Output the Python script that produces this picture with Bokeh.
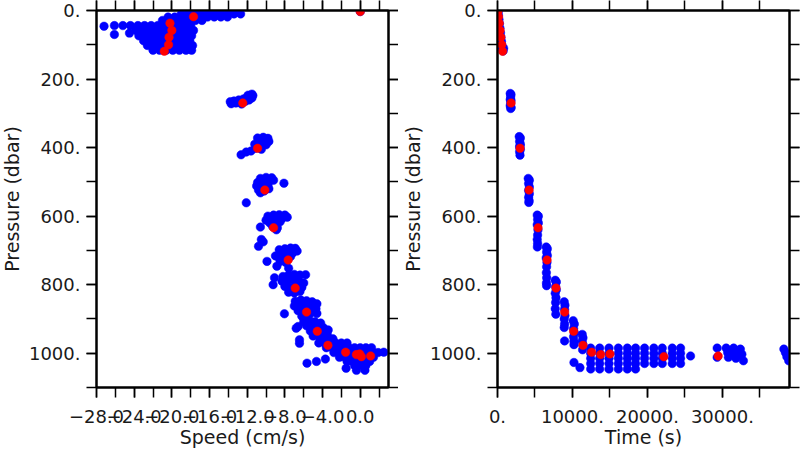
from bokeh.plotting import figure
from bokeh.layouts import row
from bokeh.models import Range1d, LinearAxis, FixedTicker
from bokeh.embed import file_html
from bokeh.resources import INLINE

FONT = "DejaVu Sans"
INK = "#1a1a1a"
BLUE = "#0000ff"
RED = "#ff0000"

# ---------------- data ----------------
# Averaged points (red): speed (cm/s), time (s), pressure (dbar)
speed_red = [0.0, -17.7, -20.2, -20.0, -20.3, -20.35, -20.8, -12.47, -10.9, -10.13,
             -9.2, -7.65, -6.9, -5.7, -4.56, -3.43, -1.55, -0.41, -0.06, 0.12, 1.1]
time_red = [50, 130, 230, 340, 450, 570, 680, 1810, 3010, 4210,
            5410, 6610, 7800, 8960, 10160, 11400, 12560, 13760, 15000, 22190, 29440]
pres_red = [3, 18, 37, 58, 78, 100, 119, 270, 402, 524,
            634, 728, 810, 880, 936, 977, 997, 1004, 1002, 1010, 1008]

# Raw observations (blue), speed panel: (speed, pressure)
spd_surface = [(0.0, 3),
               (-19.0, 10), (-18.3, 10), (-17.6, 10), (-16.9, 10), (-16.2, 10), (-15.5, 10),
               (-14.8, 10), (-14.1, 10), (-13.4, 10), (-12.7, 10),
               (-20.4, 19), (-19.7, 19), (-19.0, 19), (-18.3, 19), (-17.6, 19), (-16.9, 19),
               (-16.2, 19), (-15.5, 19), (-14.8, 19), (-14.1, 19),
               (-21.0, 29), (-20.3, 29), (-19.6, 29), (-18.9, 29), (-18.2, 29), (-17.5, 29), (-16.8, 29),
               (-27.2, 46), (-26.1, 44), (-25.2, 44), (-24.4, 44), (-23.6, 44), (-22.9, 44), (-22.2, 44),
               (-21.5, 44), (-20.8, 44), (-20.1, 44), (-19.4, 44), (-18.7, 44), (-18.0, 44),
               (-23.8, 58), (-23.1, 58), (-22.4, 58), (-21.7, 58), (-21.0, 58), (-20.3, 58),
               (-19.6, 58), (-18.9, 58), (-18.2, 58), (-17.7, 58),
               (-26.1, 70), (-24.5, 66),
               (-23.5, 74), (-22.8, 74), (-22.1, 74), (-21.4, 74), (-20.7, 74), (-20.0, 74),
               (-19.3, 74), (-18.6, 74), (-17.9, 74),
               (-23.0, 88), (-22.3, 88), (-21.6, 88), (-20.9, 88), (-20.2, 88), (-19.5, 88),
               (-18.8, 88), (-18.1, 88),
               (-22.6, 102), (-21.9, 102), (-21.2, 102), (-20.5, 102), (-19.8, 102), (-19.1, 102),
               (-18.4, 102), (-17.8, 102),
               (-22.0, 116), (-21.3, 116), (-20.6, 116), (-19.9, 116), (-19.2, 116), (-18.5, 116),
               (-17.9, 116)]
spd_mid = [(-13.7, 272), (-13.2, 270), (-12.7, 268), (-12.2, 265), (-11.8, 261), (-11.5, 255),
           (-11.4, 248), (-11.5, 244), (-13.4, 264), (-12.9, 261), (-12.4, 258), (-12.0, 252),
           (-11.9, 247), (-13.8, 266), (-12.6, 273),
           (-10.9, 372), (-10.3, 370), (-9.8, 373), (-9.7, 382), (-10.2, 385), (-10.8, 384),
           (-11.2, 390), (-10.6, 395), (-10.0, 392), (-11.1, 402), (-10.5, 405), (-11.6, 410),
           (-12.1, 413), (-12.65, 421),
           (-10.6, 490), (-10.0, 487), (-9.4, 488), (-9.2, 495), (-9.7, 500), (-10.3, 498),
           (-10.9, 502), (-11.0, 512), (-10.4, 512), (-9.8, 510), (-10.8, 524), (-10.2, 527),
           (-9.7, 520), (-10.6, 532), (-8.1, 504), (-12.1, 561),
           (-9.8, 600), (-9.2, 597), (-8.6, 596), (-8.0, 597), (-7.75, 603), (-8.3, 607),
           (-8.9, 608), (-9.5, 609), (-10.0, 612), (-9.6, 620), (-9.0, 620), (-8.5, 616),
           (-9.3, 630), (-8.8, 634), (-8.9, 640), (-10.6, 632), (-10.5, 668), (-10.8, 688),
           (-10.3, 675),
           (-8.6, 698), (-8.0, 695), (-7.4, 693), (-6.9, 694), (-6.7, 702), (-7.2, 708),
           (-7.8, 708), (-8.4, 710), (-9.0, 716), (-8.6, 722), (-8.0, 722), (-7.4, 718),
           (-8.5, 732), (-7.9, 735), (-9.9, 732), (-8.85, 746), (-7.6, 752)]
spd_deep = [(-8.2, 776), (-7.6, 772), (-7.0, 770), (-6.4, 772), (-5.8, 771), (-8.3, 790),
            (-7.7, 788), (-7.1, 786), (-6.5, 790), (-6.0, 795), (-8.0, 805), (-7.4, 808),
            (-6.8, 804), (-6.2, 808), (-7.6, 822), (-7.0, 824), (-6.4, 820), (-9.1, 780),
            (-9.25, 800),
            (-6.9, 848), (-6.3, 845), (-5.7, 847), (-5.1, 850), (-4.6, 856), (-7.0, 862),
            (-6.4, 862), (-5.8, 862), (-5.2, 866), (-4.7, 870), (-6.6, 876), (-6.0, 878),
            (-5.2, 882), (-4.6, 884), (-6.2, 892), (-5.5, 894), (-8.05, 885), (-6.8, 927),
            (-6.0, 908), (-5.4, 906), (-4.8, 908), (-4.2, 912), (-5.7, 920), (-5.1, 922),
            (-4.5, 924), (-3.9, 926), (-3.4, 932), (-5.3, 935), (-4.7, 938), (-4.1, 942),
            (-3.5, 945), (-6.6, 922), (-6.45, 961), (-6.45, 971), (-5.0, 950), (-4.3, 955)]
spd_bottom = [(-4.1, 958), (-3.5, 958), (-2.9, 958),
              (-4.4, 970), (-3.8, 970), (-3.2, 970), (-2.6, 970), (-2.0, 970), (-1.4, 970),
              (-3.6, 984), (-3.0, 984), (-2.4, 984), (-1.8, 984), (-1.2, 984), (-0.6, 984),
              (0.0, 984), (0.6, 984), (1.2, 984),
              (-2.8, 998), (-2.2, 998), (-1.6, 998), (-1.0, 998), (-0.4, 998), (0.2, 998),
              (0.8, 998), (1.4, 998), (1.9, 998),
              (-2.2, 1012), (-1.6, 1012), (-1.0, 1012), (-0.4, 1012), (0.2, 1012), (0.8, 1012),
              (1.4, 1012),
              (-1.4, 1024), (-0.8, 1024), (-0.2, 1024), (0.4, 1024), (1.0, 1024),
              (-0.6, 1036), (0.0, 1036), (0.6, 1036),
              (2.5, 997), (-5.65, 1029), (-4.65, 1024), (-3.7, 1017), (-1.5, 1044),
              (-0.4, 1050), (0.5, 1050)]

# Raw observations (blue), time panel: (time, pressure)
tim_profiles = [(50, 3), (60, 5), (130, 14), (200, 26), (260, 38), (330, 52), (400, 65),
                (460, 78), (530, 90), (590, 102), (660, 112), (750, 118), (820, 110),
                (1700, 242), (1800, 245), (1750, 252), (1700, 260), (1800, 262), (1750, 270),
                (1700, 278), (1820, 283), (1760, 286),
                (2900, 368), (3050, 372), (2950, 382), (3050, 390), (2950, 398), (3050, 405),
                (2950, 412), (3000, 422), (3000, 395),
                (4100, 490), (4250, 495), (4150, 505), (4250, 515), (4150, 525), (4250, 535),
                (4150, 545), (4220, 555), (4180, 560),
                (5300, 597), (5450, 600), (5350, 610), (5450, 620), (5300, 625), (5400, 640),
                (5350, 655), (5300, 668), (5350, 680), (5320, 690),
                (6500, 690), (6650, 695), (6550, 705), (6650, 715), (6500, 722), (6600, 735),
                (6550, 748), (6520, 765), (6560, 780), (6530, 795), (6550, 803),
                (7700, 787), (7850, 792), (7750, 805), (7850, 815), (7700, 825), (7800, 838),
                (7750, 852), (7700, 870), (7780, 886),
                (8900, 850), (9000, 860), (8950, 872), (9000, 890), (8900, 900), (8950, 915),
                (8900, 925), (8950, 964),
                (10100, 905), (10250, 915), (10150, 928), (10250, 940), (10150, 952),
                (10200, 965), (10200, 975), (10200, 1027),
                (11300, 945), (11400, 955), (11300, 965), (11400, 975), (11350, 990),
                (11000, 1042)]
tim_bottom = [(12430, 985), (12430, 1000), (12430, 1015), (12430, 1030), (12430, 1046),
              (13630, 985), (13630, 1000), (13630, 1015), (13630, 1030), (13630, 1046),
              (14870, 985), (14870, 1000), (14870, 1015), (14870, 1030), (14870, 1046),
              (16120, 985), (16120, 1000), (16120, 1015), (16120, 1030), (16120, 1046),
              (17320, 985), (17320, 1000), (17320, 1015), (17320, 1030), (17320, 1046),
              (18420, 985), (18420, 1000), (18420, 1015), (18420, 1030), (18420, 1046),
              (19620, 985), (19620, 1000), (19620, 1015), (19620, 1030),
              (20860, 985), (20860, 1000), (20860, 1015), (20860, 1030),
              (21980, 985), (21980, 1000), (21980, 1015), (21980, 1030),
              (23310, 985), (23310, 1000), (23310, 1015), (23310, 1030),
              (24420, 985), (24420, 1000), (24420, 1015), (24420, 1030),
              (25750, 1008),
              (29300, 985), (29300, 1012), (30500, 985), (30700, 998), (30800, 1012),
              (31500, 985), (31700, 1000), (31800, 1015), (32400, 988), (32600, 1003),
              (32800, 1022),
              (38200, 988), (38400, 998), (38600, 1010), (38850, 1022)]

# axis ticks and labels
pres_ticks = [0, 200, 400, 600, 800, 1000]
pres_minor = [0, 100, 200, 300, 400, 500, 600, 700, 800, 900, 1000, 1100]
pres_labels = ["0.", "200.", "400.", "600.", "800.", "1000."]
speed_ticks = [-28, -24, -20, -16, -12, -8, -4, 0]
speed_minor = [-28, -26, -24, -22, -20, -18, -16, -14, -12, -10, -8, -6, -4, -2, 0, 2]
speed_labels = ["\u221228.0", "\u221224.0", "\u221220.0", "\u221216.0", "\u221212.0",
                "\u22128.0", "\u22124.0", "0.0"]
time_ticks = [0, 10000, 20000, 30000]
time_minor = [0, 5000, 10000, 15000, 20000, 25000, 30000, 35000]
time_labels = ["0.", "10000.", "20000.", "30000."]


def style_axis(ax, ticks, minor, labels=None, title=None, s1=7, s2=3):
    ax.ticker = FixedTicker(ticks=ticks, minor_ticks=minor)
    ax.axis_line_color = "black"
    ax.axis_line_width = 2
    ax.major_tick_line_color = "black"
    ax.major_tick_line_width = 1.5
    ax.major_tick_out = 10
    ax.major_tick_in = 0
    ax.minor_tick_line_color = "black"
    ax.minor_tick_line_width = 1.5
    ax.minor_tick_out = 10
    ax.minor_tick_in = 0
    if labels is None:
        ax.major_label_overrides = {t: "" for t in ticks}
        ax.major_label_text_font_size = "1px"
        ax.major_label_standoff = 0
    else:
        ax.major_label_overrides = {t: s for t, s in zip(ticks, labels)}
        ax.major_label_text_font = FONT
        ax.major_label_text_font_size = "18px"
        ax.major_label_text_color = INK
        ax.major_label_standoff = s1
        ax.axis_label = title
        ax.axis_label_text_font = FONT
        ax.axis_label_text_font_size = "19px"
        ax.axis_label_text_font_style = "normal"
        ax.axis_label_text_color = INK
        ax.axis_label_standoff = s2


def make_panel(xr, xticks, xminor, xlabels, xtitle, blue_pts, red_x, width, border_left, border_right):
    p = figure(width=width, height=450, output_backend="svg", toolbar_location=None,
               x_range=Range1d(*xr), y_range=Range1d(1100, 0),
               min_border_left=border_left, min_border_right=border_right,
               min_border_top=10, min_border_bottom=63,
               x_axis_location="below", y_axis_location="left")
    p.xgrid.visible = False
    p.ygrid.visible = False
    p.outline_line_color = "black"
    p.outline_line_width = 2
    p.background_fill_color = "white"
    p.border_fill_color = "white"
    style_axis(p.xaxis[0], xticks, xminor, xlabels, xtitle, s1=12, s2=0)
    style_axis(p.yaxis[0], pres_ticks, pres_minor, pres_labels, "Pressure (dbar)", s1=6, s2=3)
    top = LinearAxis()
    style_axis(top, xticks, xminor)
    p.add_layout(top, "above")
    right = LinearAxis()
    style_axis(right, pres_ticks, pres_minor)
    p.add_layout(right, "right")
    bx = [v[0] for v in blue_pts]
    by = [v[1] for v in blue_pts]
    p.scatter(bx, by, size=8.5, fill_color=BLUE, line_color=BLUE, line_width=0.5)
    p.scatter(red_x, pres_red, size=8.5, fill_color=RED, line_color=RED, line_width=0.5)
    return p


p1 = make_panel((-28, 3), speed_ticks, speed_minor, speed_labels, "Speed (cm/s)",
                spd_surface + spd_mid + spd_deep + spd_bottom, speed_red, 401, 96, 10)
p2 = make_panel((0, 38950), time_ticks, time_minor, time_labels, "Time (s)",
                tim_profiles + tim_bottom, time_red, 402, 96, 11)

layout = row(p1, p2)
layout.margin = (0, 0, 0, -3)

open("out.html", "w").write(file_html(layout, INLINE))
